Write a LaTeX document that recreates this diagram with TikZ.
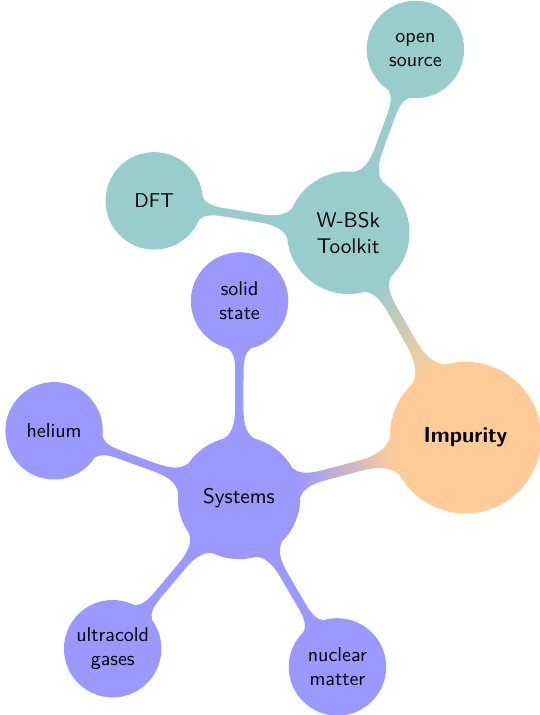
\documentclass[tikz,border=0pt]{standalone}
\usepackage{tikz}
\usetikzlibrary{
    mindmap,
    positioning,
    backgrounds
}
\tikzset{
  hub/.style   = {concept, concept color=orange!40, minimum size=2.62cm,
                  text width=2.0cm, inner sep=1pt, align=center,
                  font=\sffamily\bfseries\fontsize{10.95}{13}\selectfont},
  topic/.style = {concept, minimum size=2.11cm, text width=1.7cm,
                  inner sep=1pt, align=center,
                  font=\sffamily\fontsize{10.6}{12.8}\selectfont},
  leaf/.style  = {concept, minimum size=1.67cm, text width=1.35cm,
                  inner sep=1pt, align=center, font=\sffamily}
}

\begin{document}
\begin{tikzpicture}[mindmap]
    \useasboundingbox (0,0) rectangle (9.472,-12.565);

    \node[hub] (imp) at (8.18,-7.69) {Impurity};
    \node[concept color=blue!40, topic] (sys) at (4.20,-8.75) {Systems};
    \node[concept color=teal!40, topic] (wbsk) at (6.12,-4.09) {W-BSk\\Toolkit};

    \node[concept color=blue!40, leaf] (solid) at (4.21,-5.29) {solid\\state};
    \node[concept color=blue!40, leaf] (he)    at (0.95,-7.57) {helium};
    \node[concept color=blue!40, leaf] (cold)  at (1.98,-11.40){ultracold\\gases};
    \node[concept color=blue!40, leaf] (nuc)   at (5.93,-11.72){nuclear\\matter};

    \node[concept color=teal!40, leaf] (dft)   at (2.71,-3.53) {DFT};
    \node[concept color=teal!40, leaf] (open)  at (7.30,-0.87) {open\\source};

    \begin{pgfonlayer}{background}
      \path (imp) to[circle connection bar switch color=from (orange!40) to (blue!40)] (sys);
      \path (imp) to[circle connection bar switch color=from (orange!40) to (teal!40)] (wbsk);
      \path (sys) to[circle connection bar switch color=from (blue!40) to (blue!40)] (solid);
      \path (sys) to[circle connection bar switch color=from (blue!40) to (blue!40)] (he);
      \path (sys) to[circle connection bar switch color=from (blue!40) to (blue!40)] (cold);
      \path (sys) to[circle connection bar switch color=from (blue!40) to (blue!40)] (nuc);
      \path (wbsk) to[circle connection bar switch color=from (teal!40) to (teal!40)] (dft);
      \path (wbsk) to[circle connection bar switch color=from (teal!40) to (teal!40)] (open);
    \end{pgfonlayer}
  \end{tikzpicture}
\end{document}
